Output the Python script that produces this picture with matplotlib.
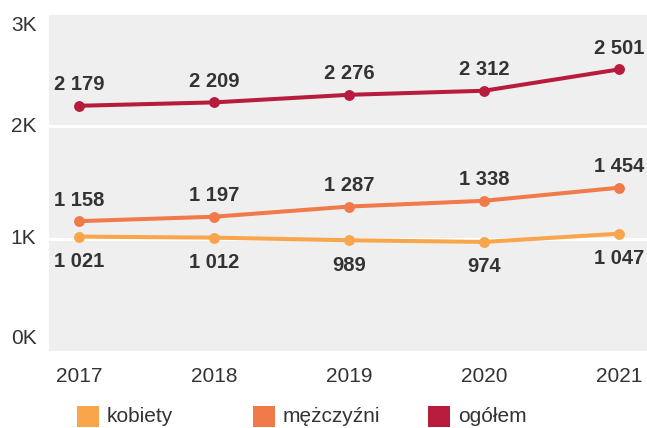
import matplotlib.pyplot as plt
from matplotlib.patches import Rectangle

plt.rcParams['font.family'] = ['Liberation Sans', 'DejaVu Sans']

lata = ['2017', '2018', '2019', '2020', '2021']
kobiety = [1021, 1012, 989, 974, 1047]
mezczyzni = [1158, 1197, 1287, 1338, 1454]
ogolem = [2179, 2209, 2276, 2312, 2501]
poziomy = [0, 1000, 2000, 3000]
etykiety_y = ['0K', '1K', '2K', '3K']

serie = [
    ('kobiety', kobiety, '#f9a54b', 'below'),
    ('mężczyźni', mezczyzni, '#f07a4a', 'above'),
    ('ogółem', ogolem, '#b81c3d', 'above'),
]


def fmt(v):
    return f'{v:,}'.replace(',', ' ')


fig = plt.figure(figsize=(6.47, 4.28), dpi=100)
ax = fig.add_axes([0.0757, 0.1776, 0.9243, 0.792])
ax.set_facecolor('#efefef')

x = list(range(len(lata)))
for nazwa, wart, kolor, pos in serie:
    ax.plot(x, wart, color=kolor, lw=2.9, marker='o', ms=6.8, zorder=3,
            solid_capstyle='round')
    for xi, v in zip(x, wart):
        dy = 15 if pos == 'above' else -18
        ax.annotate(fmt(v), (xi, v), xytext=(0, dy), textcoords='offset points',
                    ha='center', va='center', fontsize=14.5, fontweight='bold',
                    color='#333333', zorder=4)

ax.set_xlim(-0.222, 4.207)
ax.set_ylim(0, 3000)
ax.set_yticks(poziomy)
ax.set_yticklabels([])
ax.set_xticks(x)
ax.set_xticklabels(lata)
ax.tick_params(length=0, labelsize=15, colors='#333333')
ax.tick_params(axis='x', pad=11)

# etykiety osi Y - skrajne przesuniete do srodka
przes = {0: 10, 3000: -9}
for p, t in zip(poziomy, etykiety_y):
    ax.annotate(t, (0, p), xycoords=('axes fraction', 'data'),
                xytext=(-9, przes.get(p, 0)), textcoords='offset points',
                ha='right', va='center', fontsize=15, color='#333333',
                annotation_clip=False)

ax.grid(axis='y', color='white', lw=2.2)
ax.set_axisbelow(True)
for s in ax.spines.values():
    s.set_visible(False)

# legenda na dole w stalych kolumnach
for i, (nazwa, wart, kolor, pos) in enumerate(serie):
    x0 = (77 + i * 175.5) / 647
    fig.add_artist(Rectangle((x0, 1 - 427 / 428), 22 / 647, 21 / 428,
                             transform=fig.transFigure, color=kolor, lw=0))
    fig.text(x0 + 30 / 647, 1 - 416 / 428, nazwa, fontsize=15,
             color='#333333', va='center', ha='left')

fig.savefig('out.png', dpi=100)
